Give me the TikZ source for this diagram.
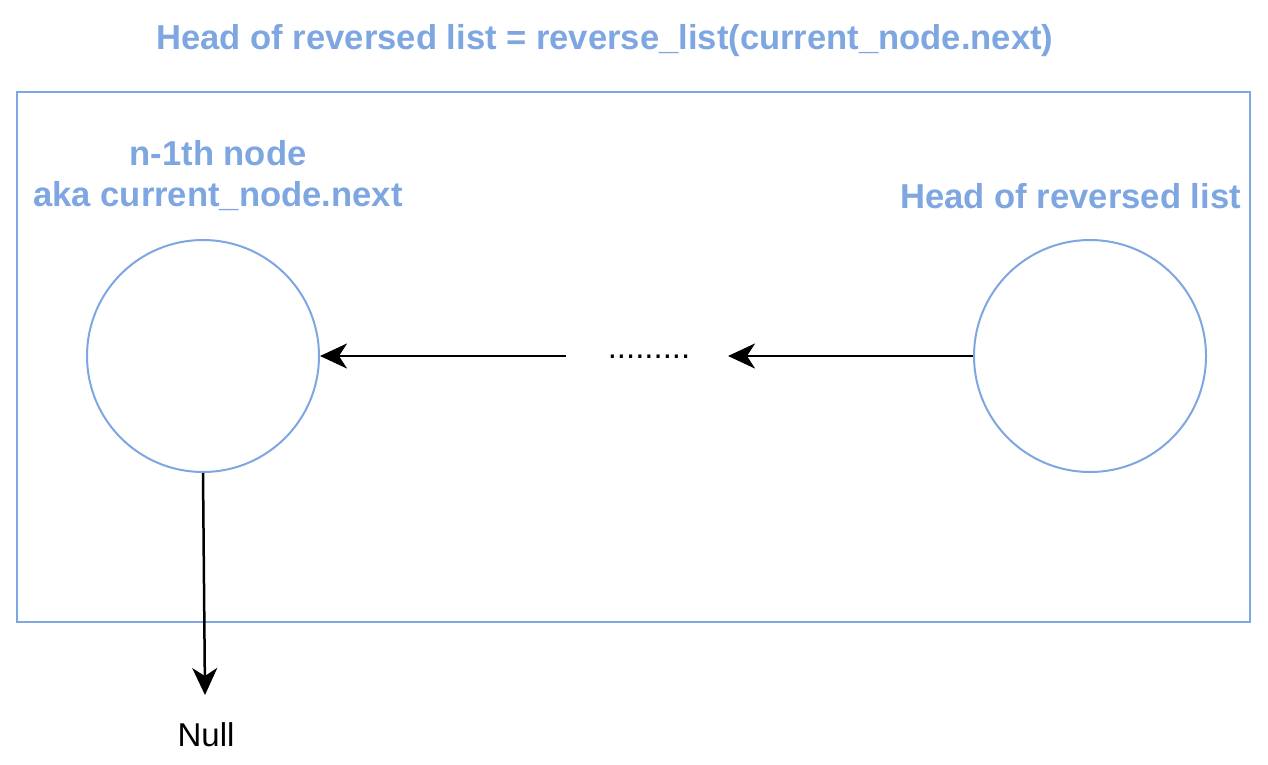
\documentclass[tikz,border=0pt]{standalone}
\usepackage{fontspec}
\setmainfont{Liberation Sans}
\usetikzlibrary{arrows.meta}
\definecolor{dblue}{HTML}{7EA6E0}
\begin{document}
\begin{tikzpicture}[x=1pt,y=-1pt,
  bluetext/.style={text=dblue,font=\fontsize{34.6}{41}\selectfont\bfseries,inner sep=0pt,align=center},
  listnode/.style={circle,draw=dblue,line width=2pt,minimum size=232pt,inner sep=0pt},
  link/.style={line width=2.5pt,-{Stealth[length=27pt,width=25pt,inset=8pt]}},
  plain/.style={font=\fontsize{33}{40}\selectfont,inner sep=0pt}]
\useasboundingbox (0,0) rectangle (1268,764);
\node[bluetext] (title) at (605,41) {Head of reversed list = reverse\_list(current\_node.next)};
\draw[dblue,line width=2pt] (17,92) rectangle (1250,622);
\node[bluetext] (lab1) at (218,176) {n-1th node\\aka current\_node.next};
\node[bluetext,anchor=east] (lab2) at (1241,196) {Head of reversed list};
\node[listnode] (c1) at (203,356) {};
\node[listnode] (c2) at (1090,356) {};
\node[plain] (dots) at (649,357) {.........};
\coordinate (a1) at (566,356);
\coordinate (a2) at (728,356);
\draw[link] (a1) -- (c1.east);
\draw[link] (c2.west) -- (a2);
\node[plain] (null) at (206,735) {Null};
\coordinate (ntip) at (205,695);
\draw[link] (c1.south) -- (ntip);
\end{tikzpicture}
\end{document}
